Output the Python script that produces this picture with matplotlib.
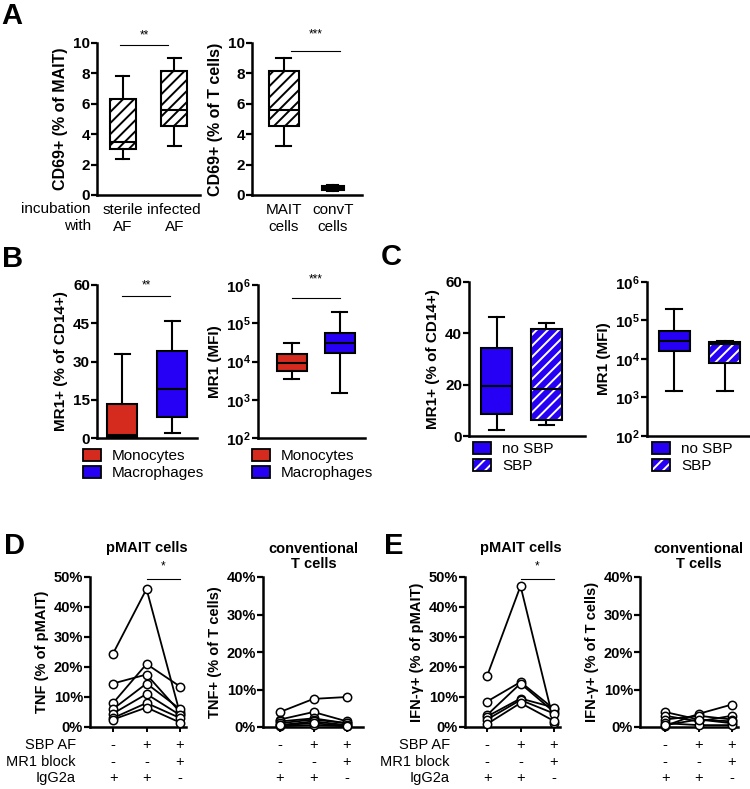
import math
import matplotlib
matplotlib.use('Agg')
import matplotlib.pyplot as plt
from matplotlib.patches import Patch, PathPatch
from matplotlib.ticker import PercentFormatter, FixedLocator, NullLocator, FuncFormatter
import matplotlib.transforms as mtransforms

plt.rcParams['font.family'] = ['Liberation Sans', 'DejaVu Sans']
plt.rcParams['font.weight'] = 'bold'
plt.rcParams['axes.labelweight'] = 'bold'
plt.rcParams['mathtext.fontset'] = 'custom'
plt.rcParams['mathtext.rm'] = 'Liberation Sans:bold'
plt.rcParams['mathtext.it'] = 'Liberation Sans:bold'
plt.rcParams['mathtext.bf'] = 'Liberation Sans:bold'
plt.rcParams['hatch.linewidth'] = 1.4

RED = '#d52b1e'
BLUE = '#2600f5'

# ---------------- data ----------------
# Panel A (box stats: whislo, q1, med, q3, whishi)
a_left_labels = ['sterile\nAF', 'infected\nAF']
a_sterile = [2.4, 3.0, 3.46, 6.3, 7.83]
a_infected = [3.25, 4.53, 5.58, 8.14, 9.04]
a_right_labels = ['MAIT\ncells', 'convT\ncells']
a_mait = [3.25, 4.53, 5.6, 8.14, 9.04]
a_convt = [0.25, 0.3, 0.45, 0.6, 0.65]

# Panel B
b_groups = ['Monocytes', 'Macrophages']
b_pct_mono = [0.0, 0.2, 1.1, 13.5, 32.8]
b_pct_macro = [1.8, 8.2, 19.4, 34.2, 45.8]
b_mfi_mono = [3.5e3, 5.5e3, 9e3, 1.6e4, 3e4]
b_mfi_macro = [1.5e3, 1.7e4, 3e4, 5.5e4, 2e5]

# Panel C
c_groups = ['no SBP', 'SBP']
c_pct_nosbp = [2.2, 8.4, 19.6, 34.4, 46.2]
c_pct_sbp = [4.3, 6.1, 18.5, 41.8, 44.2]
c_mfi_nosbp = [1.48e3, 1.66e4, 3.0e4, 5.2e4, 1.95e5]
c_mfi_sbp = [1.48e3, 7.9e3, 2.5e4, 2.8e4, 3.0e4]

# Panels D / E (paired samples, conditions 1..3)
sbp_af = ['-', '+', '+']
mr1_block = ['-', '-', '+']
igg2a = ['+', '+', '-']
row_names = ['SBP AF', 'MR1 block', 'IgG2a']

d_tnf_pmait = [[24.5, 46.0, 4.5], [14.5, 17.5, 5.0], [8.0, 21.0, 13.5],
               [6.0, 14.5, 6.0], [4.5, 11.0, 4.0], [3.0, 8.0, 3.0],
               [2.5, 6.5, 1.5]]
d_tnf_conv = [[4.0, 7.5, 8.0], [2.0, 4.0, 1.5], [1.5, 2.3, 1.0],
              [1.0, 2.0, 1.0], [0.5, 1.5, 0.5], [0.2, 0.5, 0.2],
              [0.5, 1.0, 0.3]]
e_ifn_pmait = [[17.0, 47.0, 1.5], [8.5, 15.0, 6.0], [4.0, 14.5, 5.0],
               [3.5, 9.5, 6.5], [2.5, 9.0, 4.5], [1.0, 8.0, 2.0]]
e_ifn_conv = [[4.0, 2.0, 1.0], [3.0, 1.5, 3.0], [0.3, 3.5, 6.0],
              [2.0, 3.0, 2.0], [1.0, 0.5, 0.5], [0.5, 2.0, 1.5]]

# ---------------- figure ----------------
W, H = 750, 789
fig = plt.figure(figsize=(W / 100, H / 100), dpi=100)


def px_ax(x0, x1, ytop, ybot):
    return fig.add_axes([x0 / W, 1 - ybot / H, (x1 - x0) / W, (ybot - ytop) / H])


def fy(y):
    return 1 - y / H


def style(ax, xticks=False, fs=11):
    for s in ['top', 'right']:
        ax.spines[s].set_visible(False)
    for s in ['left', 'bottom']:
        ax.spines[s].set_linewidth(1.8)
    ax.tick_params(axis='y', direction='out', length=4, width=1.6,
                   labelsize=fs, pad=1)
    if xticks:
        ax.tick_params(axis='x', direction='out', length=3.5, width=1.4,
                       labelbottom=False)
    else:
        ax.tick_params(axis='x', length=0, pad=6)


def stats_of(vals):
    lo, q1, med, q3, hi = vals
    return dict(whislo=lo, q1=q1, med=med, q3=q3, whishi=hi)


def boxes(ax, data, positions, widths, faces, hatches=None, hatch_white=None):
    n = len(data)
    hatches = hatches or [None] * n
    hatch_white = hatch_white or [False] * n
    bp = ax.bxp([stats_of(d) for d in data], positions=positions, widths=widths,
                capwidths=[w * 0.5 for w in widths], patch_artist=True,
                showfliers=False,
                boxprops=dict(linewidth=1.5, edgecolor='black'),
                medianprops=dict(color='black', linewidth=1.5),
                whiskerprops=dict(linewidth=1.5, color='black'),
                capprops=dict(linewidth=1.5, color='black'))
    for box, fc, h, hw in zip(bp['boxes'], faces, hatches, hatch_white):
        box.set_facecolor(fc)
        if h:
            box.set_hatch(h)
        if hw:
            box.set_edgecolor('white')
            ax.add_patch(PathPatch(box.get_path(), facecolor='none',
                                   edgecolor='black', linewidth=1.5,
                                   zorder=box.get_zorder()))
    for m in bp['medians']:
        m.set_zorder(5)
    return bp


def sig(ax, x0, x1, y, text, ytext_px):
    ax.plot([x0, x1], [y, y], color='black', lw=0.8, clip_on=False)
    tr = mtransforms.blended_transform_factory(ax.transData, fig.transFigure)
    ax.text((x0 + x1) / 2, fy(ytext_px), text, transform=tr, ha='center',
            va='center', fontsize=8.5, fontweight='normal')


def letter(x, y, s):
    fig.text(x / W, fy(y), s, fontsize=21, fontweight='bold',
             ha='left', va='center')


def log_axis(ax):
    ax.set_yscale('log')
    ax.set_ylim(1e2, 1e6)
    ax.yaxis.set_major_locator(FixedLocator([1e2, 1e3, 1e4, 1e5, 1e6]))
    ax.yaxis.set_minor_locator(NullLocator())
    ax.yaxis.set_major_formatter(FuncFormatter(
        lambda v, p: r'$\mathbf{10^{%d}}$' % round(math.log10(v))))


def legend(ax, handles, labels, x, y):
    ax.legend(handles, labels, loc='upper left',
              bbox_to_anchor=(x / W, fy(y)), bbox_transform=fig.transFigure,
              frameon=False, prop=dict(weight='normal', size=11),
              handlelength=1.2, handleheight=0.8, handletextpad=0.7,
              labelspacing=0.2, borderpad=0, borderaxespad=0)


# ---------------- Panel A ----------------
letter(1, 16, 'A')
ax = px_ax(97, 200, 43, 195)
style(ax)
boxes(ax, [a_sterile, a_infected], [1, 2], [0.5, 0.5], ['white', 'white'],
      hatches=['///', '///'])
ax.set_xlim(0.5, 2.5)
ax.set_ylim(0, 10)
ax.set_yticks([0, 2, 4, 6, 8, 10])
ax.set_xticks([1, 2])
ax.set_xticklabels(a_left_labels, fontweight='normal', fontsize=11,
                   linespacing=1.2)
ax.set_ylabel('CD69+ (% of MAIT)', fontsize=11.5, labelpad=4)
fig.text(91 / W, fy(202.5), 'incubation\nwith', ha='right', va='top',
         fontsize=11, fontweight='normal', linespacing=1.2)
sig(ax, 0.95, 1.88, 9.9, '**', 35)

ax = px_ax(252, 362, 43, 195)
style(ax)
boxes(ax, [a_mait, a_convt], [1, 2], [0.62, 0.45], ['white', 'white'],
      hatches=['///', '///'])
ax.set_xlim(0.35, 2.6)
ax.set_ylim(0, 10)
ax.set_yticks([0, 2, 4, 6, 8, 10])
ax.set_xticks([1, 2])
ax.set_xticklabels(a_right_labels, fontweight='normal', fontsize=11,
                   linespacing=1.2)
ax.set_ylabel('CD69+ (% of T cells)', fontsize=11.5, labelpad=4)
sig(ax, 1.15, 2.15, 9.5, '***', 34)

# ---------------- Panel B ----------------
letter(2, 259, 'B')
ax = px_ax(97, 197, 285, 438)
style(ax)
boxes(ax, [b_pct_mono, b_pct_macro], [1, 2], [0.6, 0.6], [RED, BLUE])
ax.set_xlim(0.5, 2.5)
ax.set_ylim(0, 60)
ax.set_yticks([0, 15, 30, 45, 60])
ax.set_xticks([])
ax.set_ylabel('MR1+ (% of CD14+)', fontsize=11, labelpad=4)
sig(ax, 1.0, 1.96, 55.7, '**', 285)
hb = [Patch(facecolor=RED, edgecolor='black', lw=1.3),
      Patch(facecolor=BLUE, edgecolor='black', lw=1.3)]
legend(ax, hb, b_groups, 83, 449)

ax = px_ax(258, 365, 285, 438)
style(ax)
log_axis(ax)
boxes(ax, [b_mfi_mono, b_mfi_macro], [1, 2], [0.62, 0.62], [RED, BLUE])
ax.set_xlim(0.3, 2.52)
ax.set_xticks([])
ax.set_ylabel('MR1 (MFI)', fontsize=11, labelpad=3)
sig(ax, 1.0, 2.0, 4.5e5, '***', 279)
legend(ax, hb, b_groups, 252, 449)

# ---------------- Panel C ----------------
letter(381, 257, 'C')
ax = px_ax(469, 585, 282, 436)
style(ax)
boxes(ax, [c_pct_nosbp, c_pct_sbp], [1, 2], [0.62, 0.62], [BLUE, BLUE],
      hatches=[None, '///'], hatch_white=[False, True])
ax.set_xlim(0.44, 2.78)
ax.set_ylim(0, 60)
ax.set_yticks([0, 20, 40, 60])
ax.set_xticks([])
ax.set_ylabel('MR1+ (% of CD14+)', fontsize=11, labelpad=4)
hc = [Patch(facecolor=BLUE, edgecolor='black', lw=1.3),
      (Patch(facecolor=BLUE, edgecolor='white', hatch='///', lw=0),
       Patch(facecolor='none', edgecolor='black', lw=1.3))]
legend(ax, hc, c_groups, 473, 442)

ax = px_ax(647, 750, 282, 436)
style(ax)
log_axis(ax)
boxes(ax, [c_mfi_nosbp, c_mfi_sbp], [1, 2], [0.62, 0.62], [BLUE, BLUE],
      hatches=[None, '///'], hatch_white=[False, True])
ax.set_xlim(0.46, 2.5)
ax.set_xticks([])
ax.set_ylabel('MR1 (MFI)', fontsize=11, labelpad=3)
legend(ax, hc, c_groups, 652, 442)


# ---------------- Panels D / E ----------------
def paired(ax, series, ymax, yticks, title, ylabel, xlim, sigbar=None,
           rows=False, row_x=None):
    style(ax, xticks=True, fs=10.5)
    x = [0, 1, 2]
    for s in series:
        ax.plot(x, s, '-o', color='black', lw=1.3, ms=6, mfc='white',
                mec='black', mew=1.1, clip_on=False, zorder=3)
    ax.set_xlim(*xlim)
    ax.set_ylim(0, ymax)
    ax.set_yticks(yticks)
    ax.set_xticks(x)
    ax.yaxis.set_major_formatter(PercentFormatter(decimals=0))
    ax.set_ylabel(ylabel, fontsize=10.5, labelpad=3)
    tr = mtransforms.blended_transform_factory(ax.transData, fig.transFigure)
    ty = 548 if '\n' not in title else 556.5
    ax.text(1, fy(ty), title, transform=tr, ha='center', va='center',
            fontsize=10.5, fontweight='bold', linespacing=1.1)
    if sigbar:
        sig(ax, 1, 2, sigbar, '*', 566)
    for rvals, ry in zip([sbp_af, mr1_block, igg2a], [745, 762, 778]):
        for xi, sym in zip(x, rvals):
            ax.text(xi, fy(ry), sym, transform=tr, ha='center',
                    va='center', fontsize=10.5, fontweight='normal')
    if rows:
        for name, ry in zip(row_names, [745, 762, 778]):
            fig.text(row_x / W, fy(ry), name, ha='right', va='center',
                     fontsize=10.5, fontweight='normal')


letter(4, 546, 'D')
ax = px_ax(90, 186, 577, 727)
paired(ax, d_tnf_pmait, 50, [0, 10, 20, 30, 40, 50], 'pMAIT cells',
       'TNF (% of pMAIT)', (-0.69, 2.18), sigbar=49.4, rows=True, row_x=76)
ax = px_ax(263, 363, 577, 727)
paired(ax, d_tnf_conv, 40, [0, 10, 20, 30, 40], 'conventional\nT cells',
       'TNF+ (% of T cells)', (-0.51, 2.48))

letter(384, 546, 'E')
ax = px_ax(465, 560, 577, 727)
paired(ax, e_ifn_pmait, 50, [0, 10, 20, 30, 40, 50], 'pMAIT cells',
       'IFN-γ+ (% of pMAIT)', (-0.66, 2.18), sigbar=49.5, rows=True, row_x=450)
ax = px_ax(640, 738, 577, 727)
paired(ax, e_ifn_conv, 40, [0, 10, 20, 30, 40], 'conventional\nT cells',
       'IFN-γ+ (% of T cells)', (-0.75, 2.18))

fig.savefig('out.png', dpi=100)
